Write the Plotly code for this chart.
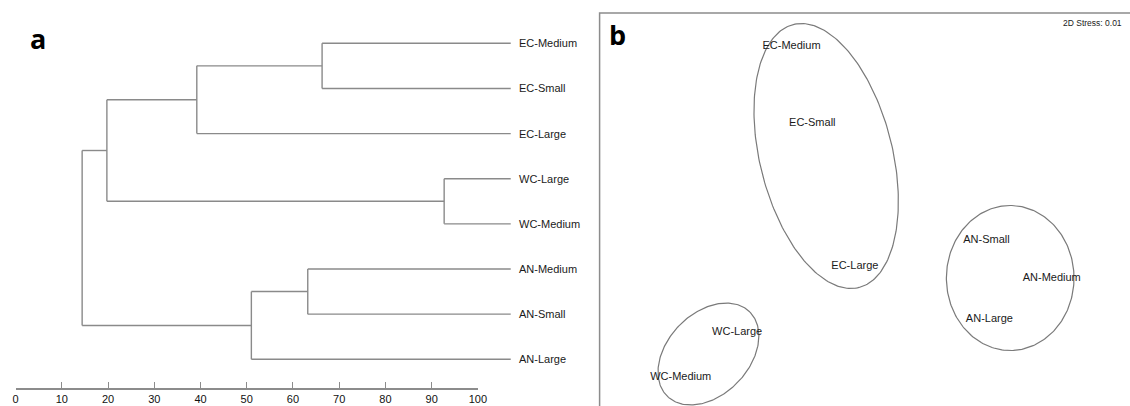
import numpy as np
import plotly.graph_objects as go

W, H = 1130, 406
FONT = "Liberation Sans, Arial, sans-serif"
LINE_GREY = "#8a8a8a"
TEXT_COL = "#1a1a1a"

# ---------------- Panel a: dendrogram (similarity) ----------------
leaves = ["EC-Medium", "EC-Small", "EC-Large", "WC-Large",
          "WC-Medium", "AN-Medium", "AN-Small", "AN-Large"]
# merges: node ids continue after leaves (8, 9, ...)
merge_left = [0, 8, 3, 9, 5, 12, 11]
merge_right = [1, 2, 4, 10, 6, 7, 13]
merge_sim = [66.3, 39.2, 92.7, 19.75, 63.2, 51.0, 14.4]
leaf_sim = 107.1
sim_ticks = [0, 10, 20, 30, 40, 50, 60, 70, 80, 90, 100]

# ---------------- Panel b: nMDS ordination ----------------
mds_labels = ["EC-Medium", "EC-Small", "EC-Large", "WC-Large",
              "WC-Medium", "AN-Small", "AN-Medium", "AN-Large"]
mds_x = [1.94, 2.15, 2.58, 1.39, 0.82, 3.91, 4.57, 3.94]
mds_y = [3.60, 2.83, 1.40, 0.74, 0.29, 1.66, 1.28, 0.87]
ell_cx = [2.29, 1.10, 4.15]
ell_cy = [2.50, 0.52, 1.28]
ell_a = [1.356, 0.593, 0.725]
ell_b = [0.67, 0.41, 0.645]
ell_angle = [-75.8, 45.0, 90.0]
stress_text = "2D Stress: 0.01"

# ---- build dendrogram segments ----
node_x = {i: leaf_sim for i in range(len(leaves))}
node_y = {i: float(i) for i in range(len(leaves))}
xs, ys = [], []
for k, (l, r, s) in enumerate(zip(merge_left, merge_right, merge_sim)):
    nid = len(leaves) + k
    for c in (l, r):
        xs += [node_x[c], s, None]
        ys += [node_y[c], node_y[c], None]
    xs += [s, s, None]
    ys += [node_y[l], node_y[r], None]
    node_x[nid] = s
    node_y[nid] = (node_y[l] + node_y[r]) / 2

fig = go.Figure()

fig.add_trace(go.Scatter(x=xs, y=ys, mode="lines",
                         line=dict(color=LINE_GREY, width=1.4),
                         hoverinfo="skip", showlegend=False,
                         xaxis="x", yaxis="y"))

# invisible trace on the similarity axis (x2), whose line spans 0-100 only
fig.add_trace(go.Scatter(x=sim_ticks, y=[7.66] * len(sim_ticks), mode="lines",
                         line=dict(color="rgba(0,0,0,0)", width=0),
                         hoverinfo="skip", showlegend=False,
                         xaxis="x2", yaxis="y"))

for i, lab in enumerate(leaves):
    fig.add_annotation(x=leaf_sim, y=i, xref="x", yref="y", text=lab,
                       showarrow=False, xanchor="left", xshift=6,
                       font=dict(family=FONT, size=11, color=TEXT_COL))

# ---- panel b ----
t = np.linspace(0, 2 * np.pi, 241)
for cx, cy, a, b, ang in zip(ell_cx, ell_cy, ell_a, ell_b, ell_angle):
    th = np.deg2rad(ang)
    ex = cx + a * np.cos(t) * np.cos(th) - b * np.sin(t) * np.sin(th)
    ey = cy + a * np.cos(t) * np.sin(th) + b * np.sin(t) * np.cos(th)
    fig.add_trace(go.Scatter(x=ex, y=ey, mode="lines",
                             line=dict(color="#7a7a7a", width=1.2),
                             hoverinfo="skip", showlegend=False,
                             xaxis="x3", yaxis="y3"))

fig.add_trace(go.Scatter(x=mds_x, y=mds_y, mode="text", text=mds_labels,
                         textposition="middle center", cliponaxis=False,
                         textfont=dict(family=FONT, size=11, color=TEXT_COL),
                         hoverinfo="skip", showlegend=False,
                         xaxis="x3", yaxis="y3"))

# panel b frame
fig.add_shape(type="rect", xref="paper", yref="paper",
              x0=603 / W, x1=1.02, y0=-0.05, y1=(H - 13) / H,
              line=dict(color="#8c8c8c", width=1.5))

fig.add_annotation(x=1.0, y=(H - 23) / H, xref="paper", yref="paper",
                   text=stress_text, showarrow=False, xanchor="right",
                   yanchor="middle", xshift=3,
                   font=dict(family=FONT, size=8.5, color=TEXT_COL))

# panel letters
fig.add_annotation(x=35 / W, y=(H - 38) / H, xref="paper", yref="paper",
                   text="<b>a</b>", showarrow=False, xanchor="center",
                   yanchor="middle",
                   font=dict(family="Open Sans, sans-serif", size=27, color="#000"))
fig.add_annotation(x=621 / W, y=(H - 35) / H, xref="paper", yref="paper",
                   text="<b>b</b>", showarrow=False, xanchor="center",
                   yanchor="middle",
                   font=dict(family="Open Sans, sans-serif", size=27, color="#000"))

pa_w = 0.53 * W
x_lo = -12.7 / 4.673
x_hi = (pa_w - 12.7) / 4.673

fig.update_layout(
    width=W, height=H,
    margin=dict(l=0, r=0, t=0, b=0),
    paper_bgcolor="white", plot_bgcolor="rgba(0,0,0,0)",
    showlegend=False,
    xaxis=dict(domain=[0, 0.53], range=[x_lo, x_hi], visible=False,
               fixedrange=True),
    yaxis=dict(domain=[0, 1], range=[(H - 43.3) / 45.14, -43.3 / 45.14],
               visible=False, fixedrange=True),
    xaxis2=dict(domain=[12.7 / W, (12.7 + 467.3) / W], range=[0, 100],
                anchor="free", position=(H - 389) / H,
                showline=True, linecolor="#8c8c8c", linewidth=1.5,
                ticks="inside", ticklen=6, tickcolor="#8c8c8c", tickwidth=1.3,
                tickvals=sim_ticks, ticktext=[str(v) for v in sim_ticks],
                tickfont=dict(family=FONT, size=11, color="#111111"),
                showgrid=False, zeroline=False, fixedrange=True),
    xaxis3=dict(domain=[603 / W, 1], range=[0, 5.27], visible=False,
                fixedrange=True),
    yaxis3=dict(domain=[0, (H - 13) / H], range=[0, 3.93], anchor="x3",
                visible=False, fixedrange=True),
)

fig.write_html("out.html")
